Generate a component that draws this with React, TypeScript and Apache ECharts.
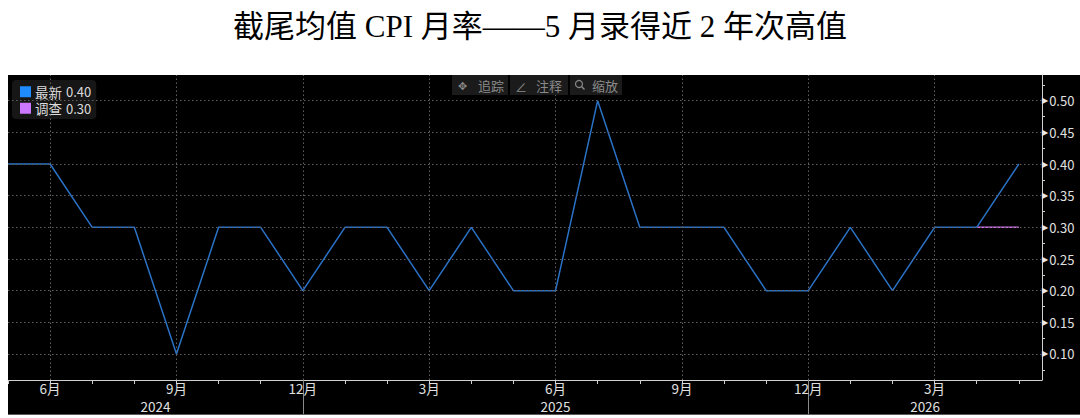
import * as echarts from "echarts";
import { useEffect, useRef } from "react";

// monthly observations, May 2024 – May 2026
const months = [
	"2024-05", "2024-06", "2024-07", "2024-08", "2024-09", "2024-10", "2024-11", "2024-12",
	"2025-01", "2025-02", "2025-03", "2025-04", "2025-05", "2025-06", "2025-07", "2025-08",
	"2025-09", "2025-10", "2025-11", "2025-12", "2026-01", "2026-02", "2026-03", "2026-04",
	"2026-05",
];
const latest = [
	0.4, 0.4, 0.3, 0.3, 0.1, 0.3, 0.3, 0.2,
	0.3, 0.3, 0.2, 0.3, 0.2, 0.2, 0.5, 0.3,
	0.3, 0.3, 0.2, 0.2, 0.3, 0.2, 0.3, 0.3,
	0.4,
];
const survey: (number | null)[] = [
	null, null, null, null, null, null, null, null,
	null, null, null, null, null, null, null, null,
	null, null, null, null, null, null, null, 0.3,
	0.3,
];
const yLabels = [0.1, 0.15, 0.2, 0.25, 0.3, 0.35, 0.4, 0.45, 0.5];
const yMinor = [0.075, 0.125, 0.175, 0.225, 0.275, 0.325, 0.375, 0.425, 0.475, 0.525];
const labelMonths = [3, 6, 9, 12];

const X_MAX = 24.55;
const Y_MIN = 0.0589;
const Y_MAX = 0.5406;

const FONT = "'Noto Sans CJK SC', 'Noto Sans', sans-serif";

export default function App() {
	const chartRef = useRef<HTMLDivElement>(null);

	useEffect(() => {
		if (!chartRef.current) return;
		const chart = echarts.init(chartRef.current, undefined, { renderer: "svg" });

		const idx = months.map((_, i) => i);
		const monthOf = (i: number) => Number(months[i].slice(5));
		const labelIdx = idx.filter((i) => labelMonths.includes(monthOf(i)));
		const seps = idx.filter((i) => monthOf(i) === 12);
		const starts = [0, ...seps];
		const ends = [...seps, X_MAX];
		const yearCenters = starts.map((s, k) => (s + ends[k]) / 2);
		const yearNames = starts.map((s, k) => months[k === 0 ? 0 : s + 1].slice(0, 4));

		const latestData = latest.map((v, i) => [i, v]);
		const surveyData = survey
			.map((v, i) => [i, v])
			.filter((d) => d[1] != null);

		chart.setOption({
			animation: false,
			title: {
				text: "截尾均值 CPI 月率——5 月录得近 2 年次高值",
				left: "center",
				top: 6,
				textStyle: {
					fontSize: 31,
					fontWeight: "normal",
					color: "#000",
					fontFamily: "'Liberation Serif', 'Noto Sans CJK SC', serif",
				},
			},
			legend: {
				orient: "vertical",
				left: 12,
				top: 80,
				padding: [5, 5, 4, 8],
				itemGap: 3,
				itemWidth: 11,
				itemHeight: 11,
				icon: "rect",
				backgroundColor: "#161616",
				borderRadius: 4,
				selectedMode: false,
				textStyle: {
					color: "#dcdcdc",
					fontFamily: FONT,
					padding: [0, 0, 0, -1],
					rich: {
						n: { fontSize: 13.5, color: "#dcdcdc", fontFamily: FONT, padding: [0, 4, 0, 0] },
						v: { fontSize: 13, color: "#dcdcdc", fontFamily: FONT },
					},
				},
				data: [
					{ name: "最新", itemStyle: { color: "#1e8cff" } },
					{ name: "调查", itemStyle: { color: "#cc77ff" } },
				],
				formatter: (name: string) => {
					const arr = name === "最新" ? latest : survey;
					const last = arr[arr.length - 1] as number;
					return `{n|${name}}{v|${last.toFixed(2)}}`;
				},
			},
			graphic: [
				{ type: "rect", z: -10, shape: { x: 8, y: 75, width: 1072, height: 340 }, style: { fill: "#000" } },
				{ type: "line", z: -9, shape: { x1: 8, y1: 414.5, x2: 1080, y2: 414.5 }, style: { stroke: "#5a5a5a", lineWidth: 1 } },
				{ type: "rect", z: 50, shape: { x: 452, y: 75, width: 56, height: 20 }, style: { fill: "#1b1b1b" } },
				{ type: "rect", z: 50, shape: { x: 510, y: 75, width: 58, height: 20 }, style: { fill: "#1b1b1b" } },
				{ type: "rect", z: 50, shape: { x: 570, y: 75, width: 52, height: 20 }, style: { fill: "#1b1b1b" } },
				{ type: "text", z: 51, x: 462, y: 85, style: { text: "✥", fill: "#8a8a8a", font: `11px ${FONT}`, align: "center", verticalAlign: "middle" } },
				{ type: "text", z: 51, x: 478, y: 85, style: { text: "追踪", fill: "#8a8a8a", font: `13px ${FONT}`, verticalAlign: "middle" } },
				{ type: "text", z: 51, x: 521, y: 86, style: { text: "∠", fill: "#8a8a8a", font: `12px ${FONT}`, align: "center", verticalAlign: "middle" } },
				{ type: "text", z: 51, x: 536, y: 85, style: { text: "注释", fill: "#8a8a8a", font: `13px ${FONT}`, verticalAlign: "middle" } },
				{ type: "circle", z: 51, shape: { cx: 579, cy: 84, r: 3.5 }, style: { fill: "none", stroke: "#8a8a8a", lineWidth: 1.2 } },
				{ type: "line", z: 51, shape: { x1: 581.5, y1: 86.5, x2: 584.5, y2: 89.5 }, style: { stroke: "#8a8a8a", lineWidth: 1.4 } },
				{ type: "text", z: 51, x: 592, y: 85, style: { text: "缩放", fill: "#8a8a8a", font: `13px ${FONT}`, verticalAlign: "middle" } },
			],
			grid: { left: 8, right: 38, top: 75, bottom: 38, containLabel: false },
			xAxis: [
				{
					type: "value",
					min: 0,
					max: X_MAX,
					position: "bottom",
					axisLine: { onZero: false, lineStyle: { color: "#d0d0d0", width: 1 } },
					axisTick: { customValues: idx, length: 4, lineStyle: { color: "#d0d0d0" } },
					splitLine: { show: false },
					axisLabel: {
						customValues: labelIdx,
						margin: 1,
						color: "#e0e0e0",
						fontSize: 13.5,
						lineHeight: 14,
						fontFamily: FONT,
						formatter: (v: number) => `${monthOf(Math.round(v))}月`,
					},
				},
				{
					type: "value",
					min: 0,
					max: X_MAX,
					position: "bottom",
					axisLine: { show: false, onZero: false },
					axisTick: { customValues: seps, length: 34, lineStyle: { color: "#8a8a8a" } },
					splitLine: { show: false },
					axisLabel: {
						customValues: yearCenters,
						margin: 19,
						color: "#e0e0e0",
						fontSize: 13.5,
						lineHeight: 14,
						fontFamily: FONT,
						formatter: (v: number) => {
							const k = yearCenters.findIndex((c) => Math.abs(c - v) < 1e-6);
							return k >= 0 ? yearNames[k] : "";
						},
					},
				},
			],
			yAxis: [
				{
					type: "value",
					min: Y_MIN,
					max: Y_MAX,
					position: "right",
					axisLine: { show: true, onZero: false, lineStyle: { color: "#d0d0d0" } },
					axisTick: { show: false, customValues: yLabels },
					splitLine: { show: false },
					axisLabel: {
						customValues: yLabels,
						margin: 0,
						formatter: (v: number) => `{t|▶}{v|${v.toFixed(2)}}`,
						rich: {
							t: { color: "#e8e8e8", fontSize: 8, fontFamily: "'DejaVu Sans', sans-serif", padding: [0, 1, 0, 0] },
							v: { color: "#e0e0e0", fontSize: 13, fontFamily: FONT },
						},
					},
				},
				{
					type: "value",
					min: Y_MIN,
					max: Y_MAX,
					position: "right",
					axisLine: { show: false, onZero: false },
					axisTick: { customValues: yMinor, length: 3, lineStyle: { color: "#d0d0d0" } },
					splitLine: { show: false },
					axisLabel: { show: false },
				},
			],
			series: [
				{
					name: "grid",
					type: "line",
					data: [],
					z: 1,
					silent: true,
					markLine: {
						silent: true,
						symbol: ["none", "none"],
						label: { show: false },
						lineStyle: { color: "#606060", type: [1.5, 2.5], width: 1 },
						data: [
							...yLabels.map((v) => ({ yAxis: v })),
							...labelIdx.map((i) => ({ xAxis: i })),
						],
					},
				},
				{
					name: "最新",
					type: "line",
					data: latestData,
					showSymbol: false,
					z: 3,
					itemStyle: { color: "#1e8cff" },
					lineStyle: { color: "#2a72c6", width: 1.5 },
				},
				{
					name: "调查",
					type: "line",
					data: surveyData,
					showSymbol: false,
					z: 2,
					itemStyle: { color: "#cc77ff" },
					lineStyle: { color: "#cf6fe6", width: 1.5 },
				},
			],
		});

		const onResize = () => chart.resize();
		window.addEventListener("resize", onResize);
		return () => {
			window.removeEventListener("resize", onResize);
			chart.dispose();
		};
	}, []);

	return (
		<div
			ref={chartRef}
			style={{ position: "fixed", left: 0, top: 0, width: 1080, height: 418, background: "#fff" }}
		/>
	);
}
